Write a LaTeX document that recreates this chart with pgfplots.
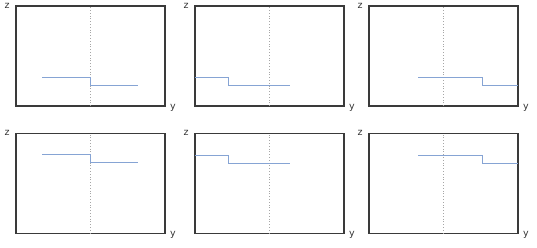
\documentclass[border=0pt]{standalone}
\usepackage{pgfplots}
\pgfplotsset{compat=1.18}
\usepackage{fontspec}
\setmainfont{DejaVu Sans}
\definecolor{stepblue}{HTML}{86A4D4}
\definecolor{frame}{HTML}{3A3A3A}
\pgfplotsset{
  panel/.style={
    scale only axis, width=149pt, height=100pt,
    anchor=south west,
    xmin=-1, xmax=1, ymin=0, ymax=1,
    xtick=\empty, ytick=\empty,
    axis line style={frame, line width=1.1pt},
    clip=false,
  },
  steps/.style={stepblue, line width=1pt, no marks},
}
\newcommand{\decor}{%
  \draw[gray!70, dotted, line width=0.8pt] (axis cs:0,0) -- (axis cs:0,1);
  \node[font=\fontsize{9.5}{11}\selectfont, text=black!80] at (rel axis cs:0,1) [xshift=-9pt, yshift=0pt] {z};
  \node[font=\fontsize{9.5}{11}\selectfont, text=black!80] at (rel axis cs:1,0) [xshift=8pt, yshift=-1.5pt] {y};
}
\begin{document}
\begin{tikzpicture}
\path (0pt,0pt) rectangle (537pt,247pt);
% top row
\begin{axis}[panel, at={(16pt,141pt)}]
\decor
\addplot[steps] coordinates {(-0.65,0.29) (0,0.29) (0,0.21) (0.64,0.21)};
\end{axis}
\begin{axis}[panel, at={(195pt,141pt)}]
\decor
\addplot[steps] coordinates {(-1,0.29) (-0.55,0.29) (-0.55,0.21) (0.27,0.21)};
\end{axis}
\begin{axis}[panel, at={(369pt,141pt)}]
\decor
\addplot[steps] coordinates {(-0.34,0.29) (0.52,0.29) (0.52,0.21) (1,0.21)};
\end{axis}
% bottom row
\begin{axis}[panel, at={(16pt,13.7pt)}]
\decor
\addplot[steps] coordinates {(-0.65,0.785) (0,0.785) (0,0.705) (0.64,0.705)};
\end{axis}
\begin{axis}[panel, at={(195pt,13.7pt)}]
\decor
\addplot[steps] coordinates {(-1,0.78) (-0.55,0.78) (-0.55,0.70) (0.27,0.70)};
\end{axis}
\begin{axis}[panel, at={(369pt,13.7pt)}]
\decor
\addplot[steps] coordinates {(-0.34,0.78) (0.52,0.78) (0.52,0.70) (1,0.70)};
\end{axis}
\end{tikzpicture}
\end{document}
